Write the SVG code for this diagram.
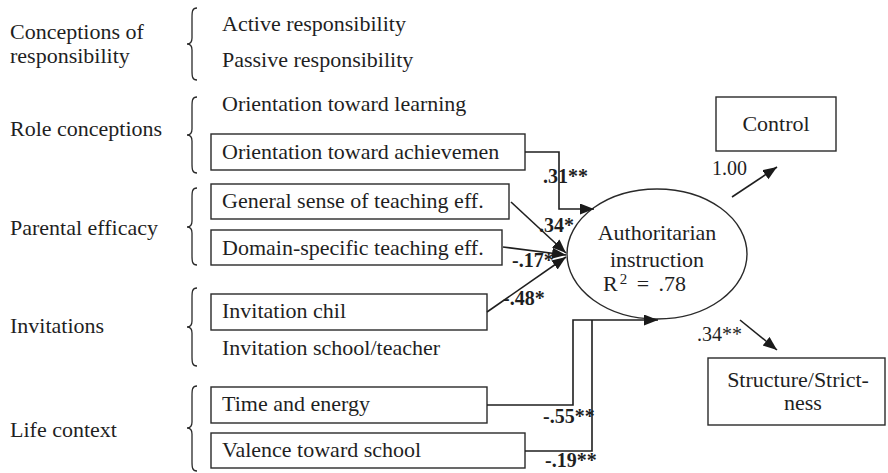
<svg xmlns="http://www.w3.org/2000/svg" width="888" height="473" viewBox="0 0 888 473">
  <defs>
    <marker id="arrow" markerUnits="userSpaceOnUse" markerWidth="16" markerHeight="12" refX="14" refY="5.5" orient="auto">
      <path d="M0,0 L14,5.5 L0,11 z" fill="#1a1a1a"/>
    </marker>
    <style>
      text { font-family: "Liberation Serif", "Times New Roman", serif; font-size: 22px; fill: #1f1f1f; }
      .lbl { font-weight: bold; font-size: 20px; }
      .coef { font-size: 20px; }
      .box { fill: #ffffff; stroke: #2a2a2a; stroke-width: 1.4; }
      .brace { fill: none; stroke: #2a2a2a; stroke-width: 1.3; }
      .edge { fill: none; stroke: #1f1f1f; stroke-width: 1.6; }
    </style>
  </defs>
  <rect width="888" height="473" fill="#ffffff"/>

  <!-- construct groups on the left -->
  <g id="conceptions-of-responsibility">
    <text x="10" y="39">Conceptions of</text>
    <text x="10" y="63">responsibility</text>
    <path class="brace" d="M197,8 C192,8 192,12 192,18 L192,38 C192,42 190,44 187,44 C190,44 192,46 192,50 L192,70 C192,76 192,80 197,80"/>
    <text x="222" y="31">Active responsibility</text>
    <text x="222" y="67">Passive responsibility</text>
  </g>

  <g id="role-conceptions">
    <text x="10" y="136">Role conceptions</text>
    <path class="brace" d="M197,97 C192,97 192,101 192,107 L192,129 C192,133 190,135 187,135 C190,135 192,137 192,141 L192,163 C192,169 192,173 197,173"/>
    <text x="222" y="111">Orientation toward learning</text>
  </g>
  <g id="orientation-achievement">
    <rect class="box" x="211" y="134" width="314" height="36"/>
    <text x="222" y="159">Orientation toward achievemen</text>
  </g>

  <g id="parental-efficacy">
    <text x="10" y="235">Parental efficacy</text>
    <path class="brace" d="M197,188 C192,188 192,192 192,198 L192,221 C192,225 190,227 187,227 C190,227 192,229 192,233 L192,255 C192,261 192,265 197,265"/>
  </g>
  <g id="general-teaching-efficacy">
    <rect class="box" x="211" y="184" width="298" height="35"/>
    <text x="222" y="208">General sense of teaching eff.</text>
  </g>
  <g id="domain-teaching-efficacy">
    <rect class="box" x="211" y="230" width="291" height="35"/>
    <text x="222" y="255">Domain-specific teaching eff.</text>
  </g>

  <g id="invitations">
    <text x="10" y="333">Invitations</text>
    <path class="brace" d="M197,288 C192,288 192,292 192,298 L192,321 C192,325 190,327 187,327 C190,327 192,329 192,333 L192,356 C192,362 192,366 197,366"/>
    <text x="222" y="355">Invitation school/teacher</text>
  </g>
  <g id="invitation-child">
    <rect class="box" x="211" y="294" width="276" height="36"/>
    <text x="222" y="318">Invitation chil</text>
  </g>

  <g id="life-context">
    <text x="10" y="437">Life context</text>
    <path class="brace" d="M197,386 C192,386 192,390 192,396 L192,422 C192,426 190,428 187,428 C190,428 192,430 192,434 L192,461 C192,467 192,471 197,471"/>
  </g>
  <g id="time-energy">
    <rect class="box" x="211" y="387" width="276" height="36"/>
    <text x="222" y="411">Time and energy</text>
  </g>
  <g id="valence-school">
    <rect class="box" x="211" y="433" width="314" height="35"/>
    <text x="222" y="457">Valence toward school</text>
  </g>

  <!-- latent construct -->
  <g id="authoritarian-instruction">
    <ellipse cx="657" cy="254" rx="90" ry="65" fill="#ffffff" stroke="#2a2a2a" stroke-width="1.4"/>
    <text x="657" y="240" text-anchor="middle">Authoritarian</text>
    <text x="657" y="267" text-anchor="middle">instruction</text>
    <text x="603" y="291" word-spacing="4">R<tspan font-size="15" dx="2" dy="-7">2</tspan><tspan dy="7"> = .78</tspan></text>
  </g>

  <!-- indicators -->
  <g id="control">
    <rect class="box" x="716" y="97" width="120" height="54"/>
    <text x="776" y="131" text-anchor="middle">Control</text>
  </g>
  <g id="structure-strictness">
    <rect class="box" x="708" y="358" width="177" height="67"/>
    <text x="798" y="387" text-anchor="middle">Structure/Strict-</text>
    <text x="803" y="410" text-anchor="middle">ness</text>
  </g>

  <!-- paths and coefficients -->
  <g id="connectors">
    <path class="edge" d="M525,152 H559 V209 H594" marker-end="url(#arrow)"/>
    <path class="edge" d="M511,202 L566,253" marker-end="url(#arrow)"/>
    <path class="edge" d="M503,247 L566,255" marker-end="url(#arrow)"/>
    <path class="edge" d="M487,312 L566,257" marker-end="url(#arrow)"/>
    <path class="edge" d="M487,405 H573 V320 H658" marker-end="url(#arrow)"/>
    <path class="edge" d="M525,451 H592 V320"/>
    <path class="edge" d="M732,197 L777,167" marker-end="url(#arrow)"/>
    <path class="edge" d="M740,320 L777,350" marker-end="url(#arrow)"/>

    <text class="lbl" x="543" y="183">.31**</text>
    <text class="lbl" x="539" y="232">.34*</text>
    <text class="lbl" x="512" y="267">-.17*</text>
    <text class="lbl" x="503" y="305">-.48*</text>
    <text class="lbl" x="543" y="423">-.55**</text>
    <text class="lbl" x="545" y="467">-.19**</text>
    <text class="coef" x="712" y="175">1.00</text>
    <text class="coef" x="697" y="341">.34**</text>
  </g>
</svg>
